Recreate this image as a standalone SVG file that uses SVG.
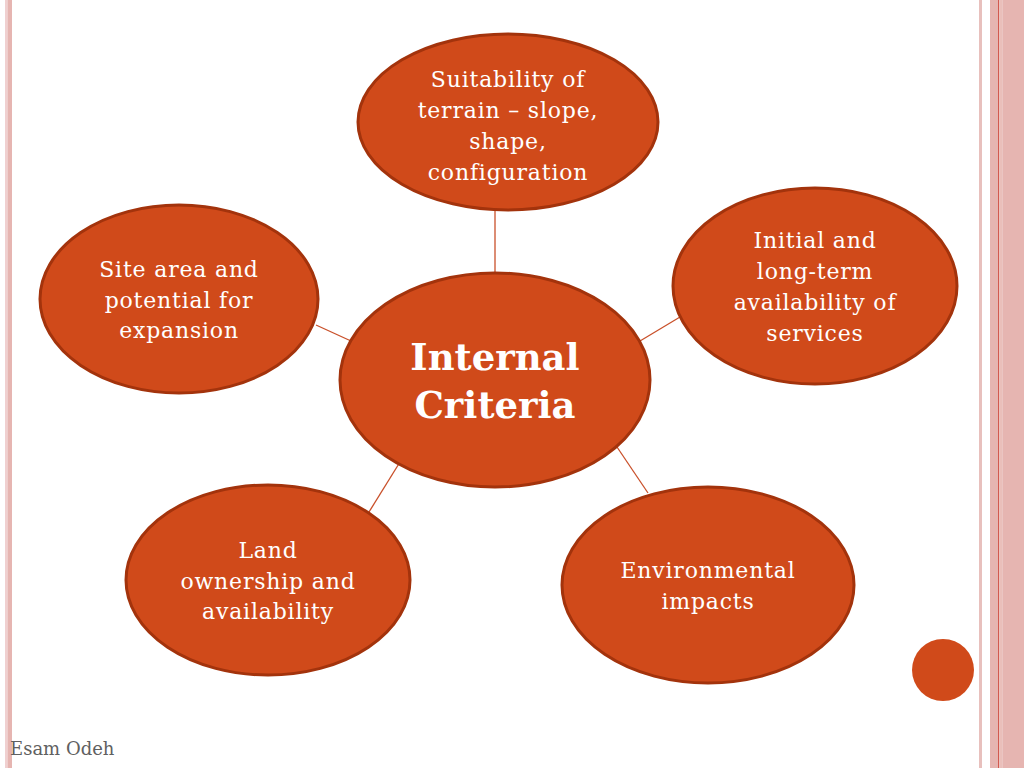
<svg xmlns="http://www.w3.org/2000/svg" width="1024" height="768" viewBox="0 0 1024 768">
<style>
.node{fill:#d04a1a;stroke:#a3330c;stroke-width:3}
.t{font-family:"DejaVu Serif","Liberation Serif",serif;font-size:22px;letter-spacing:0.8px;fill:#ffffff;text-anchor:middle}
.tb{font-family:"DejaVu Serif","Liberation Serif",serif;font-size:37px;font-weight:bold;fill:#ffffff;text-anchor:middle}
.c{stroke:#c9502a;stroke-width:1.3;fill:none}
</style>
<rect width="1024" height="768" fill="#ffffff"/>
<g id="borders">
<rect x="5" y="0" width="2.5" height="768" fill="#f0d0d0"/>
<rect x="7.5" y="0" width="4.5" height="768" fill="#e6b5b1"/>
<rect x="979" y="0" width="3" height="768" fill="#e8c0bd"/>
<rect x="990" y="0" width="8" height="768" fill="#e6b5b1"/>
<rect x="998" y="0" width="1.3" height="768" fill="#d25a50"/>
<rect x="999.3" y="0" width="3" height="768" fill="#eabfba"/>
<rect x="1002.3" y="0" width="21.7" height="768" fill="#e6b5b1"/>
</g>
<g id="connectors">
<line class="c" x1="495" y1="210" x2="495" y2="273"/>
<line class="c" x1="316" y1="325" x2="351" y2="341"/>
<line class="c" x1="640" y1="341" x2="680" y2="317"/>
<line class="c" x1="400" y1="462" x2="369" y2="512"/>
<line class="c" x1="617" y1="447" x2="648" y2="493"/>
</g>
<g id="node-top">
<ellipse class="node" cx="508" cy="122" rx="150" ry="88"/>
<text class="t" x="508" y="87">Suitability of</text>
<text class="t" x="508" y="118">terrain – slope,</text>
<text class="t" x="508" y="149">shape,</text>
<text class="t" x="508" y="180">configuration</text>
</g>
<g id="node-left">
<ellipse class="node" cx="179" cy="299" rx="139" ry="94"/>
<text class="t" x="179" y="277">Site area and</text>
<text class="t" x="179" y="308">potential for</text>
<text class="t" x="179" y="338">expansion</text>
</g>
<g id="node-right">
<ellipse class="node" cx="815" cy="286" rx="142" ry="98"/>
<text class="t" x="815" y="248">Initial and</text>
<text class="t" x="815" y="279">long-term</text>
<text class="t" x="815" y="310">availability of</text>
<text class="t" x="815" y="341">services</text>
</g>
<g id="node-center">
<ellipse class="node" cx="495" cy="380" rx="155" ry="107"/>
<text class="tb" x="495" y="370">Internal</text>
<text class="tb" x="495" y="418">Criteria</text>
</g>
<g id="node-bottom-left">
<ellipse class="node" cx="268" cy="580" rx="142" ry="95"/>
<text class="t" x="268" y="558">Land</text>
<text class="t" x="268" y="589">ownership and</text>
<text class="t" x="268" y="619">availability</text>
</g>
<g id="node-bottom-right">
<ellipse class="node" cx="708" cy="585" rx="146" ry="98"/>
<text class="t" x="708" y="578">Environmental</text>
<text class="t" x="708" y="609">impacts</text>
</g>
<circle cx="943" cy="670" r="31" fill="#d04a1a"/>
<text x="10" y="755" font-family="DejaVu Serif, Liberation Serif, serif" font-size="18" fill="#606060">Esam Odeh</text>
</svg>
